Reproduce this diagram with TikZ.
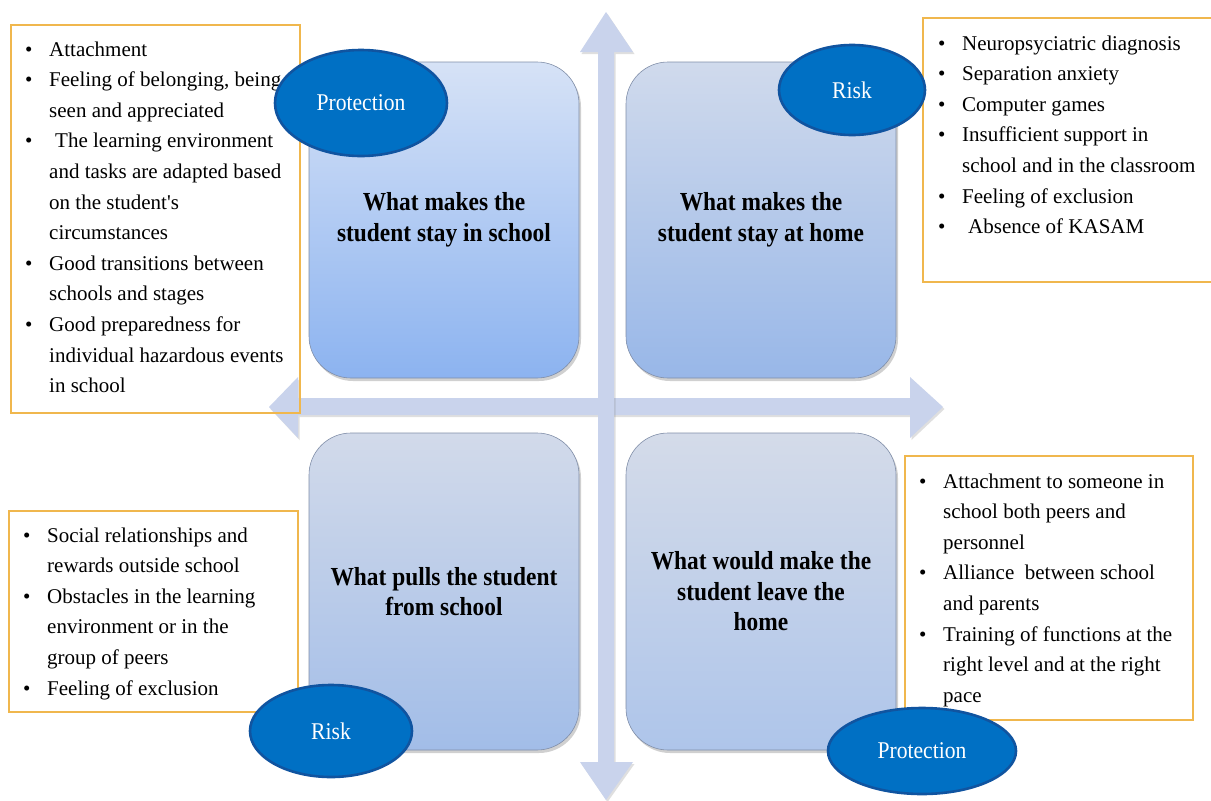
\documentclass[tikz,border=0pt]{standalone}
\usepackage{fontspec}
\setmainfont{Liberation Serif}
\newfontface\headfont[FakeStretch=0.9]{Liberation Serif Bold}
\newfontface\ellfont[FakeStretch=0.9]{Liberation Serif}
\usetikzlibrary{shapes.geometric,shadows}
\definecolor{arrowc}{RGB}{201,211,236}
\definecolor{ellfill}{RGB}{0,112,196}
\definecolor{elldraw}{RGB}{16,84,160}
\definecolor{orangeb}{RGB}{240,183,77}
\definecolor{boxedge}{RGB}{128,142,168}
\definecolor{tltop}{RGB}{214,226,246}
\definecolor{tlbot}{RGB}{140,179,240}
\definecolor{trtop}{RGB}{208,218,236}
\definecolor{trbot}{RGB}{152,183,232}
\definecolor{bltop}{RGB}{210,218,234}
\definecolor{blbot}{RGB}{162,189,232}
\definecolor{brtop}{RGB}{212,219,233}
\definecolor{brbot}{RGB}{174,197,234}
\newcommand\myitem[1]{\makebox[24pt][l]{\textbullet}#1}
\newcommand\mycont[1]{\hspace*{24pt}#1}
\tikzset{
  quadbox/.style={rectangle, rounded corners=42pt, minimum width=270pt, minimum height=316pt,
    draw=boxedge, line width=0.6pt, shading=axis, align=center, inner sep=0pt,
    font={\headfont\fontsize{26}{30.5}\selectfont},
    drop shadow={shadow xshift=2pt, shadow yshift=-3pt, opacity=0.3, fill=black!60}},
  listbox/.style={rectangle, draw=orangeb, line width=1.3pt, inner sep=0pt},
  listtext/.style={anchor=base west, inner sep=0pt, font={\fontsize{21}{30.6}\selectfont}},
  tag/.style={ellipse, fill=ellfill, draw=elldraw, line width=2.6pt, inner sep=0pt,
    text=white, font={\ellfont\fontsize{24}{28}\selectfont}},
  axisarrow/.style={fill=arrowc, drop shadow={shadow xshift=1.5pt, shadow yshift=-2pt, opacity=0.25, fill=black!50}}
}
\begin{document}
\begin{tikzpicture}[x=1pt,y=-1pt]
\useasboundingbox (0,0) rectangle (1211,801);
\fill[white] (0,0) rectangle (1211,801);
% axes
\fill[axisarrow] (269,407) -- (298,377) -- (298,398) -- (910,398) -- (910,377) -- (943,407)
  -- (910,438) -- (910,415) -- (298,415) -- (298,438) -- cycle;
\fill[axisarrow] (606,12) -- (633,52) -- (614,52) -- (614,762) -- (633,762) -- (606,800)
  -- (580,762) -- (598,762) -- (598,52) -- (580,52) -- cycle;
% quadrant boxes
\node[quadbox, top color=tltop, bottom color=tlbot] (qtl) at (444,220) {What makes the\\student stay in school};
\node[quadbox, top color=trtop, bottom color=trbot] (qtr) at (761,220) {What makes the\\student stay at home};
\node[quadbox, top color=bltop, bottom color=blbot, minimum height=317pt] (qbl) at (444,591.5) {What pulls\ the student\\from school};
\node[quadbox, top color=brtop, bottom color=brbot, minimum height=317pt] (qbr) at (761,591.5) {What would make the\\student leave the\\home};
% list boxes
\node[listbox, minimum width=289pt, minimum height=388pt] (ltl) at (155.5,219) {};
\node[listbox, minimum width=290pt, minimum height=264pt] (ltr) at (1068,150) {};
\node[listbox, minimum width=289pt, minimum height=201pt] (lbl) at (153.5,611.5) {};
\node[listbox, minimum width=288pt, minimum height=264pt] (lbr) at (1049,588) {};
\node[listtext] (ttl) at (25,56) {\parbox[t]{300pt}{\fontsize{21}{30.6}\selectfont
\myitem{Attachment}\\
\myitem{Feeling of\ belonging, being}\\
\mycont{seen and appreciated}\\
\myitem{\hspace{6pt}The learning environment}\\
\mycont{and tasks are adapted based}\\
\mycont{on the student\textquotesingle s}\\
\mycont{circumstances}\\
\myitem{Good transitions between}\\
\mycont{schools and stages}\\
\myitem{Good preparedness for}\\
\mycont{individual hazardous events}\\
\mycont{in school}}};
\node[listtext] (ttr) at (938,50) {\parbox[t]{300pt}{\fontsize{21}{30.6}\selectfont
\myitem{Neuropsyciatric diagnosis}\\
\myitem{Separation anxiety}\\
\myitem{Computer games}\\
\myitem{Insufficient support in}\\
\mycont{school and in the classroom}\\
\myitem{Feeling of\ exclusion}\\
\myitem{\hspace{6pt}Absence of\ KASAM}}};
\node[listtext] (tbl) at (23,542) {\parbox[t]{300pt}{\fontsize{21}{30.6}\selectfont
\myitem{Social relationships and}\\
\mycont{rewards outside school}\\
\myitem{Obstacles in the learning}\\
\mycont{environment or in the}\\
\mycont{group of\ peers}\\
\myitem{Feeling of\ exclusion}}};
\node[listtext] (tbr) at (919,488) {\parbox[t]{300pt}{\fontsize{21}{30.6}\selectfont
\myitem{Attachment to someone in}\\
\mycont{school both peers and}\\
\mycont{personnel}\\
\myitem{Alliance\ \ between school}\\
\mycont{and parents}\\
\myitem{Training of\ functions at the}\\
\mycont{right level and at the right}\\
\mycont{pace}}};
% tags
\node[tag, minimum width=172pt, minimum height=106pt] (etl) at (361,103) {Protection};
\node[tag, minimum width=146pt, minimum height=90pt] (etr) at (852,90) {Risk};
\node[tag, minimum width=162pt, minimum height=92pt] (ebl) at (331,731) {Risk};
\node[tag, minimum width=188pt, minimum height=86pt] (ebr) at (922,751) {Protection};
\end{tikzpicture}
\end{document}
